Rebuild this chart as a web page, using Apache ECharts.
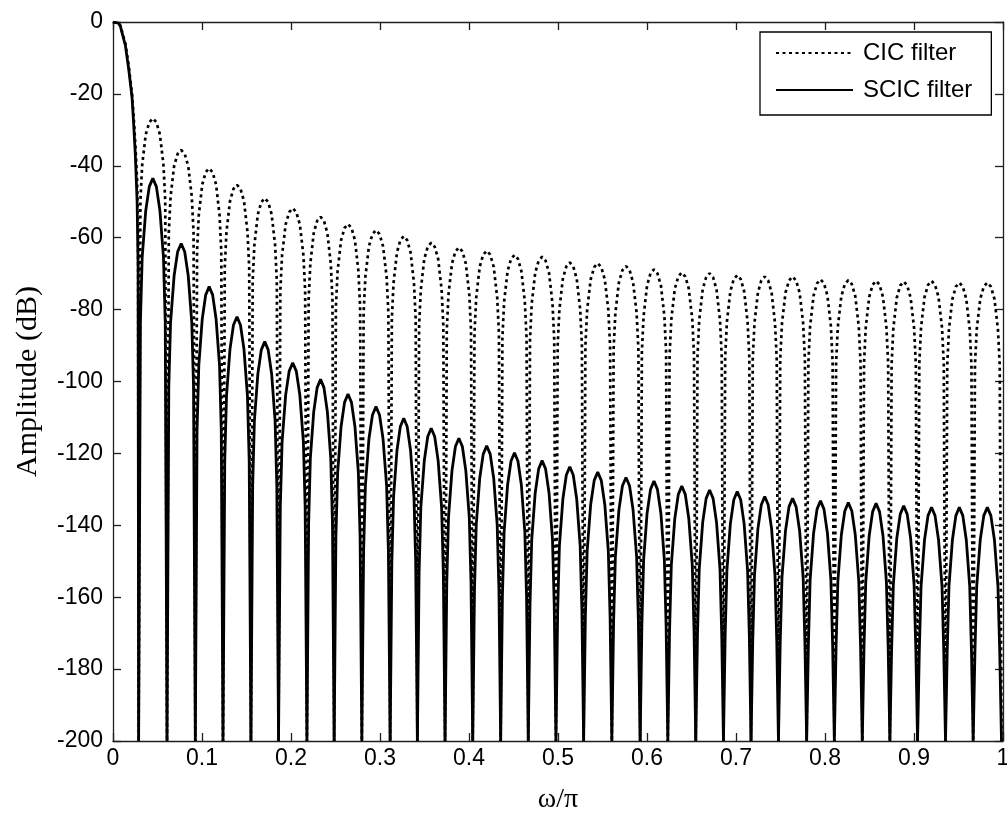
<!DOCTYPE html>
<html>
<head>
<meta charset="utf-8">
<script src="https://cdn.jsdelivr.net/npm/echarts@6/dist/echarts.min.js"></script>
<style>
  html, body { margin: 0; padding: 0; background: #fff; }
  #chart { width: 1007px; height: 816px; }
</style>
</head>
<body>
<div id="chart"></div>
<script>
// Normalized frequency ticks and their labels
const xTicks = [0, 0.1, 0.2, 0.3, 0.4, 0.5, 0.6, 0.7, 0.8, 0.9, 1];
const xTickLabels = ['0', '0.1', '0.2', '0.3', '0.4', '0.5', '0.6', '0.7', '0.8', '0.9', '1'];
const yTicks = [0, -20, -40, -60, -80, -100, -120, -140, -160, -180, -200];
const yTickLabels = ['0', '-20', '-40', '-60', '-80', '-100', '-120', '-140', '-160', '-180', '-200'];

// Zeros of both responses (ω/π); the response drops to the floor of the plot here
const nullFreq = [0.0288, 0.0607, 0.0925, 0.1236, 0.1550, 0.1860, 0.2179, 0.2485,
                  0.2796, 0.3114, 0.3420, 0.3731, 0.4042, 0.4356, 0.4666, 0.4977,
                  0.5288, 0.5605, 0.5923, 0.6234, 0.6548, 0.6859, 0.7169, 0.7477,
                  0.7794, 0.8105, 0.8419, 0.8729, 0.9040, 0.9354, 0.9665, 0.9983];
const nullLevel = -200;

// Passband (main lobe) samples [ω/π, dB]
const cicMainLobe = [[0, 0], [0.006, -0.3], [0.0083, -1], [0.0139, -6], [0.0176, -12],
                     [0.0214, -20], [0.0229, -25], [0.0251, -34], [0.0271, -44], [0.0282, -58]];
const scicMainLobe = [[0, 0], [0.006, -0.3], [0.0083, -1.2], [0.0139, -6.5], [0.0176, -13],
                      [0.0214, -21], [0.0229, -27], [0.0251, -37], [0.0271, -50], [0.0282, -68]];

// Sidelobe peak levels (dB), one per lobe between consecutive zeros
const cicPeaks = [-26.8, -35.6, -40.7, -45.3, -49.0, -51.8, -54.2, -56.2, -57.9, -59.6,
                  -61.4, -62.7, -63.6, -64.8, -65.3, -66.9, -67.1, -67.9, -68.8, -69.7,
                  -69.9, -70.4, -70.8, -70.8, -71.6, -71.8, -72.0, -72.2, -72.0, -72.5, -72.5];
const scicPeaks = [-43.5, -61.6, -73.6, -82.0, -88.9, -94.8, -99.4, -103.5, -107.0, -110.2,
                   -113.0, -115.8, -117.9, -119.8, -122.0, -123.7, -125.2, -126.7, -127.7, -129.1,
                   -130.2, -130.6, -132.0, -132.5, -133.2, -133.7, -133.9, -134.6, -135.0, -135.0, -135.0];

// Sidelobe profile: level below the lobe peak (dB) at fractions of the lobe width
const lobeFrac = [1 / 16, 1 / 8, 1 / 4, 3 / 8, 1 / 2, 5 / 8, 3 / 4, 7 / 8, 15 / 16];
const cicLobeDrop = [23, 13, 4.5, 1.1, 0, 1.1, 4.5, 13, 23];
const scicLobeDrop = [40, 22, 9, 2.3, 0, 2.3, 9, 22, 40];

function buildResponse(mainLobe, peaks, drops) {
  const pts = mainLobe.map(p => p.slice());
  pts.push([nullFreq[0], nullLevel]);
  for (let k = 0; k < peaks.length; k++) {
    const a = nullFreq[k], b = nullFreq[k + 1];
    lobeFrac.forEach((f, j) => pts.push([a + (b - a) * f, peaks[k] - drops[j]]));
    pts.push([b, nullLevel]);
  }
  return pts;
}

const cicData = buildResponse(cicMainLobe, cicPeaks, cicLobeDrop);
const scicData = buildResponse(scicMainLobe, scicPeaks, scicLobeDrop);

const axisColor = '#1f1f1f';
const sans = '"Liberation Sans", Arial, sans-serif';
const serif = '"Liberation Serif", "Times New Roman", serif';

function labelOf(ticks, labels) {
  return v => {
    const i = ticks.findIndex(t => Math.abs(t - v) < 1e-9);
    return i >= 0 ? labels[i] : '';
  };
}

const boxLine = { show: true, onZero: false, lineStyle: { color: axisColor, width: 1.3 } };
const boxTick = { show: true, inside: true, length: 8, lineStyle: { color: axisColor, width: 1.3 } };

const chart = echarts.init(document.getElementById('chart'), null, { renderer: 'canvas' });
chart.setOption({
  animation: false,
  backgroundColor: '#fff',
  grid: { left: 113, top: 22, width: 890, height: 719, containLabel: false, outerBoundsMode: 'none' },
  xAxis: [
    {
      type: 'value', min: 0, max: 1, interval: 0.1, position: 'bottom',
      axisLine: boxLine, axisTick: boxTick, splitLine: { show: false },
      axisLabel: { formatter: labelOf(xTicks, xTickLabels), color: '#000', fontFamily: sans, fontSize: 23, margin: 6 },
      name: 'ω/π', nameLocation: 'middle', nameGap: 45,
      nameTextStyle: { fontFamily: serif, fontSize: 28, color: '#000' }
    },
    {
      type: 'value', min: 0, max: 1, interval: 0.1, position: 'top',
      axisLine: boxLine, axisTick: boxTick, splitLine: { show: false }, axisLabel: { show: false }
    }
  ],
  yAxis: [
    {
      type: 'value', min: -200, max: 0, interval: 20, position: 'left',
      axisLine: boxLine, axisTick: boxTick, splitLine: { show: false },
      axisLabel: { formatter: labelOf(yTicks, yTickLabels), color: '#000', fontFamily: sans, fontSize: 23, margin: 10 },
      name: 'Amplitude (dB)', nameLocation: 'middle', nameGap: 70, nameRotate: 90,
      nameTextStyle: { fontFamily: serif, fontSize: 30, color: '#000' }
    },
    {
      type: 'value', min: -200, max: 0, interval: 20, position: 'right',
      axisLine: boxLine, axisTick: boxTick, splitLine: { show: false }, axisLabel: { show: false }
    }
  ],
  legend: {
    orient: 'vertical', left: 760, top: 32,
    data: ['CIC filter', 'SCIC filter'],
    itemWidth: 77, itemHeight: 12, itemGap: 11,
    padding: [8, 19, 12, 15],
    borderColor: '#000', borderWidth: 1.3, backgroundColor: '#fff',
    itemStyle: { opacity: 0 },
    textStyle: { fontFamily: sans, fontSize: 24, color: '#000', lineHeight: 26, padding: [0, 0, 0, 5] },
    selectedMode: false
  },
  series: [
    {
      name: 'CIC filter', type: 'line', data: cicData,
      symbol: 'none', showSymbol: false, clip: true,
      lineStyle: { color: '#000', width: 2.7, type: [3, 3.5] },
      itemStyle: { color: '#000' }, z: 2
    },
    {
      name: 'SCIC filter', type: 'line', data: scicData,
      symbol: 'none', showSymbol: false, clip: true,
      lineStyle: { color: '#000', width: 2.8, type: 'solid' },
      itemStyle: { color: '#000' }, z: 3
    }
  ]
});
</script>
</body>
</html>
